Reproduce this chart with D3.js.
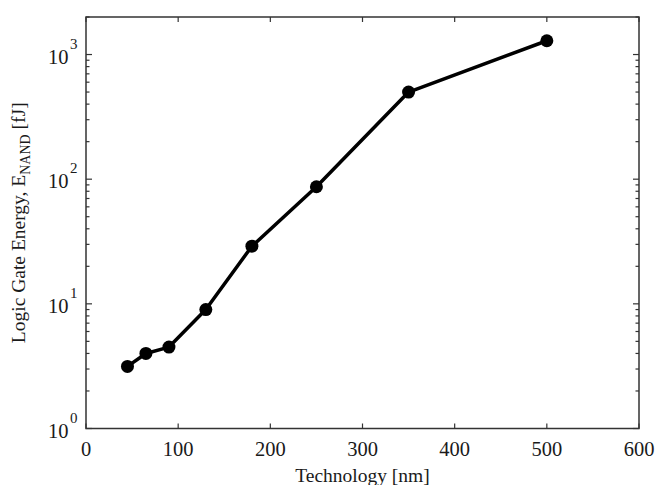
<!DOCTYPE html>
<html><head><meta charset="utf-8">
<script src="https://cdn.jsdelivr.net/npm/d3@7"></script>
<style>body{margin:0;background:#fff}svg{display:block}</style>
</head><body><svg id="c" width="655" height="485"></svg>
<script>
const techNm = [45, 65, 90, 130, 180, 250, 350, 500];
const energyFJ = [3.15, 4.0, 4.5, 9.0, 29, 87, 500, 1290];
const xTicks = [0, 100, 200, 300, 400, 500, 600];
const yDecades = [0, 1, 2, 3];

const svg = d3.select("#c");
const m = {l: 86, r: 639, t: 17, b: 428.5};
const x = d3.scaleLinear().domain([0, 600]).range([m.l, m.r]);
const y = d3.scaleLog().domain([1, 2000]).range([m.b, m.t]);
const font = "Liberation Serif, Times New Roman, serif";
const axCol = "#333";
const txtCol = "#1a1a1a";

// frame
svg.append("rect").attr("x", m.l).attr("y", m.t).attr("width", m.r - m.l).attr("height", m.b - m.t)
  .attr("fill", "none").attr("stroke", axCol).attr("stroke-width", 1.5);

// x ticks (inward, bottom and top)
const g = svg.append("g").attr("stroke", axCol).attr("stroke-width", 1.2);
xTicks.forEach(v => {
  g.append("line").attr("x1", x(v)).attr("x2", x(v)).attr("y1", m.b).attr("y2", m.b - 5);
  g.append("line").attr("x1", x(v)).attr("x2", x(v)).attr("y1", m.t).attr("y2", m.t + 5);
});
// y ticks
const minorVals = [];
for (let d = 0; d <= 3; d++) for (let k = 2; k <= 9; k++) { const v = k * Math.pow(10, d); if (v <= 2000) minorVals.push(v); }
yDecades.forEach(d => {
  const v = Math.pow(10, d);
  g.append("line").attr("x1", m.l).attr("x2", m.l + 6).attr("y1", y(v)).attr("y2", y(v));
  g.append("line").attr("x1", m.r).attr("x2", m.r - 6).attr("y1", y(v)).attr("y2", y(v));
});
minorVals.forEach(v => {
  g.append("line").attr("x1", m.l).attr("x2", m.l + 3.5).attr("y1", y(v)).attr("y2", y(v));
  g.append("line").attr("x1", m.r).attr("x2", m.r - 3.5).attr("y1", y(v)).attr("y2", y(v));
});

// x tick labels
svg.append("g").selectAll("text").data(xTicks).join("text")
  .attr("x", d => x(d)).attr("y", m.b + 27.5).attr("text-anchor", "middle")
  .attr("font-family", font).attr("font-size", 20.5).attr("fill", txtCol).text(d => d);

// y tick labels 10^n
yDecades.forEach(d => {
  svg.append("text").attr("x", 68.5).attr("y", y(Math.pow(10, d)) + 9)
    .attr("text-anchor", "end").attr("font-family", font).attr("font-size", 20.5).attr("fill", txtCol).text("10");
  svg.append("text").attr("x", 70).attr("y", y(Math.pow(10, d)) - 6)
    .attr("font-family", font).attr("font-size", 15).attr("fill", txtCol).text(d);
});

// axis labels
svg.append("text").attr("x", (m.l + m.r) / 2).attr("y", 482).attr("text-anchor", "middle")
  .attr("font-family", font).attr("font-size", 19.5).attr("fill", txtCol).text("Technology [nm]");
const yl = svg.append("text").attr("transform", `translate(25,${(m.t + m.b) / 2}) rotate(-90)`)
  .attr("text-anchor", "middle").attr("font-family", font).attr("font-size", 19.5).attr("fill", txtCol);
yl.append("tspan").text("Logic Gate Energy, E");
yl.append("tspan").attr("font-size", 14).attr("dy", 5).text("NAND");
yl.append("tspan").attr("dy", -5).text(" [fJ]");

// series
const data = techNm.map((t, i) => ({t, e: energyFJ[i]}));
svg.append("path").datum(data)
  .attr("d", d3.line().x(d => x(d.t)).y(d => y(d.e)))
  .attr("fill", "none").attr("stroke", "#000").attr("stroke-width", 3.5).attr("stroke-linejoin", "round");
svg.append("g").selectAll("circle").data(data).join("circle")
  .attr("cx", d => x(d.t)).attr("cy", d => y(d.e)).attr("r", 6.5).attr("fill", "#000");
</script></body></html>
